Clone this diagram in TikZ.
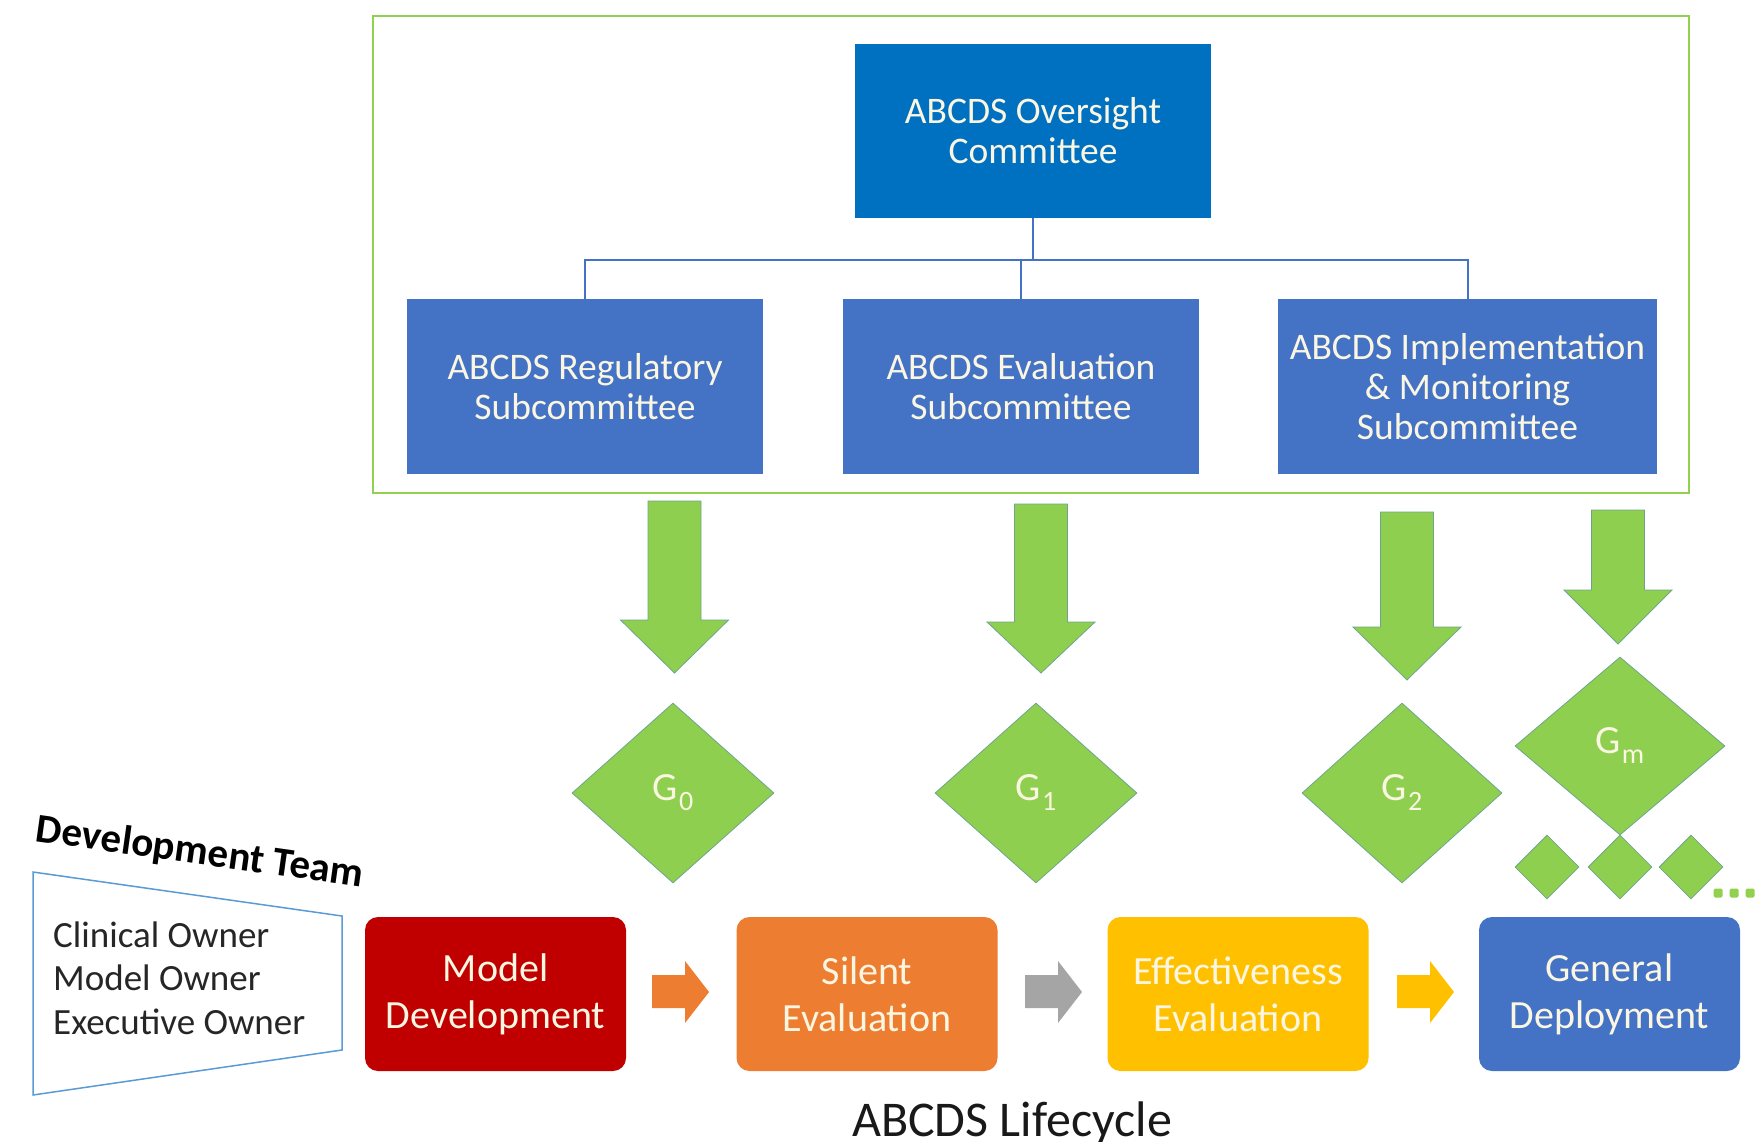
\documentclass[tikz,border=0pt]{standalone}
\usepackage{fontspec}
\setmainfont{Carlito}
\usetikzlibrary{shapes.geometric}

\definecolor{ovblue}{HTML}{0070C0}
\definecolor{subblue}{HTML}{4472C4}
\definecolor{gatefill}{HTML}{8FCF4F}
\definecolor{gateedge}{RGB}{110,165,140}
\definecolor{framegreen}{HTML}{92D050}
\definecolor{mdred}{HTML}{C00000}
\definecolor{silorange}{HTML}{ED7D31}
\definecolor{effyellow}{HTML}{FFC000}
\definecolor{arrgray}{HTML}{A5A5A5}
\definecolor{teamedge}{HTML}{5B9BD5}
\definecolor{lighttext}{RGB}{250,246,225}
\definecolor{darktext}{RGB}{38,38,38}

% block arrow pointing down: centre x, top y, head start y, tip y
\newcommand\gatearrow[4]{%
  \filldraw[garrow] (#1-26.5,#2) -- (#1+26.5,#2) -- (#1+26.5,#3) -- (#1+54,#3)
    -- (#1,#4) -- (#1-54,#3) -- (#1-26.5,#3) -- cycle;}
% small block arrow pointing right: left x, colour
\newcommand\steparrow[2]{%
  \fill[#2] (#1,975) -- (#1+33,975) -- (#1+33,961) -- (#1+57,992)
    -- (#1+33,1023) -- (#1+33,1008) -- (#1,1008) -- cycle;}
% gate label with lowered index
\newcommand\gatelabel[1]{G\kern1pt\raisebox{-10pt}{\fontsize{28}{28}\selectfont #1}}

\tikzset{
  frame/.style={draw=framegreen, line width=2pt, inner sep=0pt},
  ovbox/.style={fill=ovblue, text=lighttext, align=center, inner sep=0pt,
    minimum width=356, minimum height=174,
    font=\fontsize{37.5}{40}\selectfont},
  subbox/.style={fill=subblue, text=lighttext, align=center, inner sep=0pt,
    minimum height=175, font=\fontsize{37.5}{40}\selectfont},
  bus/.style={draw=subblue, line width=2pt},
  garrow/.style={fill=gatefill, draw=gateedge, line width=0.8pt},
  gate/.style={diamond, fill=gatefill, draw=gateedge, line width=0.8pt,
    inner sep=0pt, text=lighttext, font=\fontsize{40}{40}\selectfont},
  stagebox/.style={rounded corners=13pt, text=lighttext, align=center,
    inner sep=0pt, minimum width=261, minimum height=154,
    font=\fontsize{40}{47}\selectfont},
  owner/.style={anchor=base west, text=darktext, inner sep=0pt,
    font=\fontsize{37}{37}\selectfont},
}

\begin{document}
\begin{tikzpicture}[x=1pt, y=-1pt]
  \fill[white] (0,0) rectangle (1757,1141);
  \useasboundingbox (0,0) rectangle (1757,1141);

  % governance board
  \node[frame, minimum width=1316, minimum height=477] (board) at (1031,254.5) {};
  \node[ovbox] (ov) at (1033,131) {ABCDS Oversight\\Committee};
  \node[subbox, minimum width=356] (reg) at (585,386.5) {ABCDS Regulatory\\Subcommittee};
  \node[subbox, minimum width=356] (eva) at (1021,386.5) {ABCDS Evaluation\\Subcommittee};
  \node[subbox, minimum width=379] (imp) at (1467.5,386.5) {ABCDS Implementation\\\& Monitoring\\Subcommittee};

  \coordinate (busy) at (0,260);
  \draw[bus] (ov.south) -- (ov.south |- busy);
  \draw[bus] (reg.north) -- (reg.north |- busy) -- (imp.north |- busy) -- (imp.north);
  \draw[bus] (eva.north) -- (eva.north |- busy);

  % arrows down to the gates
  \gatearrow{674.5}{501}{620}{673}
  \gatearrow{1041}{504}{622}{673}
  \gatearrow{1407}{512}{627}{680}
  \gatearrow{1618}{510}{590}{644}

  % gates
  \node[gate, minimum width=202, minimum height=180] (g0) at (673,793) {\gatelabel{0}};
  \node[gate, minimum width=202, minimum height=180] (g1) at (1036,793) {\gatelabel{1}};
  \node[gate, minimum width=200, minimum height=180] (g2) at (1402,793) {\gatelabel{2}};
  \node[gate, minimum width=210, minimum height=178] (gm) at (1620,746) {\gatelabel{m}};
  \node[gate, minimum width=64, minimum height=64] (gs1) at (1547,867) {};
  \node[gate, minimum width=64, minimum height=64] (gs2) at (1620,867) {};
  \node[gate, minimum width=64, minimum height=64] (gs3) at (1691,867) {};
  \foreach \dx in {1718,1734,1750}
    \fill[framegreen, rounded corners=1.5pt] (\dx-4.5,888.5) rectangle (\dx+4.5,897.5);

  % development team
  \draw[teamedge, line width=1.5pt] (33,872) -- (342,916) -- (342,1050) -- (33,1095) -- cycle;
  \node[rotate=-8, font=\fontsize{41}{41}\selectfont\bfseries, inner sep=0pt] (team) at (200,853) {Development Team};
  \node[owner] (own1) at (53,947) {Clinical Owner};
  \node[owner] (own2) at (53,990) {Model Owner};
  \node[owner] (own3) at (53,1034) {Executive Owner};

  % lifecycle stages
  \node[stagebox, fill=mdred] (md) at (495.5,994) {Model\\Development};
  \node[stagebox, fill=silorange] (se) at (867,994) {Silent\\Evaluation};
  \node[stagebox, fill=effyellow] (ee) at (1238,994) {Effectiveness\\Evaluation};
  \node[stagebox, fill=subblue] (gd) at (1609.5,994) {General\\Deployment};
  \steparrow{652}{silorange}
  \steparrow{1025}{arrgray}
  \steparrow{1397}{effyellow}

  \node[anchor=base, inner sep=0pt, text=black!90, font=\fontsize{50}{50}\selectfont] (life) at (1012,1136) {ABCDS Lifecycle};
\end{tikzpicture}
\end{document}
